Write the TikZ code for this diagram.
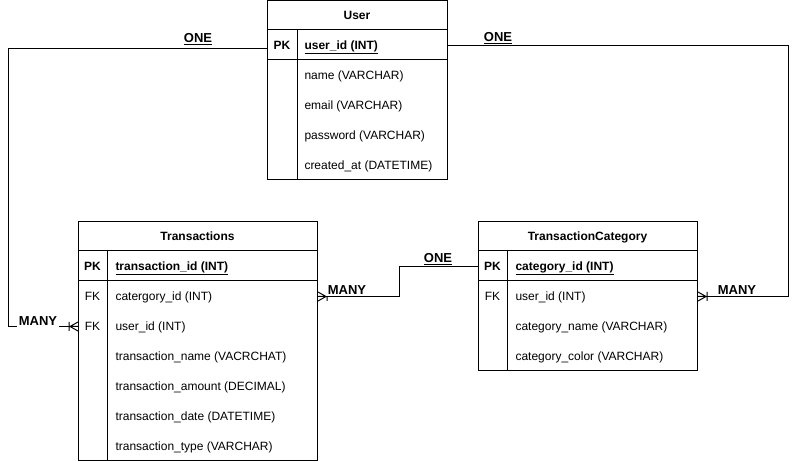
\documentclass[tikz,border=0pt]{standalone}
\usepackage{fontspec}
\setmainfont{Liberation Sans}
\newcommand\crowfoot[2]{%
  \draw[shift={(#1)}, xscale=#2] (0,-4.5) -- (8,0) -- (0,4.5) (0,0) -- (8,0) (9,-4.5) -- (9,4.5);}
\begin{document}
\begin{tikzpicture}[x=1pt,y=-1pt, line width=1pt,
  every node/.style={font=\fontsize{12}{14}\selectfont, inner sep=0pt},
  fld/.style={anchor=base west},
  key/.style={anchor=base},
  ttl/.style={anchor=base, font=\fontsize{12}{14}\selectfont\bfseries},
  rowsp/.style={draw=none, minimum height=30pt, anchor=north west},
  lbl/.style={font=\fontsize{13}{15}\selectfont\bfseries, fill=white, inner sep=1.5pt},
  lblnf/.style={font=\fontsize{13}{15}\selectfont\bfseries, inner sep=0.5pt}]
\useasboundingbox (0,0) rectangle (796,462);

% ---------- User ----------
\draw (267,1) rectangle (447,180);
\draw (267,30) -- (447,30) (267,60) -- (447,60) (297,30) -- (297,180);
\node[rowsp, minimum width=180pt] (uPK) at (267,30) {};
\node[ttl] (uT) at (357,19.3) {User};
\node[key] (uK) at (282,49.3) {\textbf{PK}};
\node[fld] (u1) at (304,49.3) {\underline{\textbf{user\_id (INT)}}};
\node[fld] (u2) at (304,79.3) {name (VARCHAR)};
\node[fld] (u3) at (304,109.3) {email (VARCHAR)};
\node[fld] (u4) at (304,139.3) {password (VARCHAR)};
\node[fld] (u5) at (304,169.3) {created\_at (DATETIME)};

% ---------- Transactions ----------
\draw (78,222) rectangle (317,461);
\draw (78,251) -- (317,251) (78,281) -- (317,281) (107,251) -- (107,461);
\node[rowsp, minimum width=239pt] (tPK) at (78,251) {};
\node[rowsp, minimum width=239pt] (tF1) at (78,281) {};
\node[rowsp, minimum width=239pt] (tF2) at (78,311) {};
\node[ttl] (tT) at (197.5,240.3) {Transactions};
\node[key] (tK) at (92.5,270.3) {\textbf{PK}};
\node[fld] (t1) at (115,270.3) {\underline{\textbf{transaction\_id (INT)}}};
\node[key] (tK2) at (92.5,300.3) {FK};
\node[fld] (t2) at (115,300.3) {catergory\_id (INT)};
\node[key] (tK3) at (92.5,330.3) {FK};
\node[fld] (t3) at (115,330.3) {user\_id (INT)};
\node[fld] (t4) at (115,360.3) {transaction\_name (VACRCHAT)};
\node[fld] (t5) at (115,390.3) {transaction\_amount (DECIMAL)};
\node[fld] (t6) at (115,420.3) {transaction\_date (DATETIME)};
\node[fld] (t7) at (115,450.3) {transaction\_type (VARCHAR)};

% ---------- TransactionCategory ----------
\draw (478,222) rectangle (697,371);
\draw (478,251) -- (697,251) (478,281) -- (697,281) (507,251) -- (507,371);
\node[rowsp, minimum width=219pt] (cPK) at (478,251) {};
\node[rowsp, minimum width=219pt] (cF1) at (478,281) {};
\node[ttl] (cT) at (587.5,240.3) {TransactionCategory};
\node[key] (cK) at (492.5,270.3) {\textbf{PK}};
\node[fld] (c1) at (515,270.3) {\underline{\textbf{category\_id (INT)}}};
\node[key] (cK2) at (492.5,300.3) {FK};
\node[fld] (c2) at (515,300.3) {user\_id (INT)};
\node[fld] (c3) at (515,330.3) {category\_name (VARCHAR)};
\node[fld] (c4) at (515,360.3) {category\_color (VARCHAR)};

% ---------- Connectors ----------
\draw ([yshift=-3pt]uPK.west) -- ++(-259,0) |- (tF2.west);
\draw (uPK.east) -- ++(340,0) |- (cF1.east);
\draw (tF1.east) -- ++(81,0) |- (cPK.west);
\crowfoot{tF2.west}{-1}
\crowfoot{tF1.east}{1}
\crowfoot{cF1.east}{1}

% ---------- Labels ----------
\node[lblnf] (l1) at (198,39) {\underline{ONE}};
\node[lblnf] (l2) at (498,38.5) {\underline{ONE}};
\node[lbl] (l3) at (38,321.5) {MANY};
\node[lbl] (l4) at (347,290) {MANY};
\node[lbl] (l5) at (438,259) {\underline{ONE}};
\node[lbl] (l6) at (737,290) {MANY};
\end{tikzpicture}
\end{document}
